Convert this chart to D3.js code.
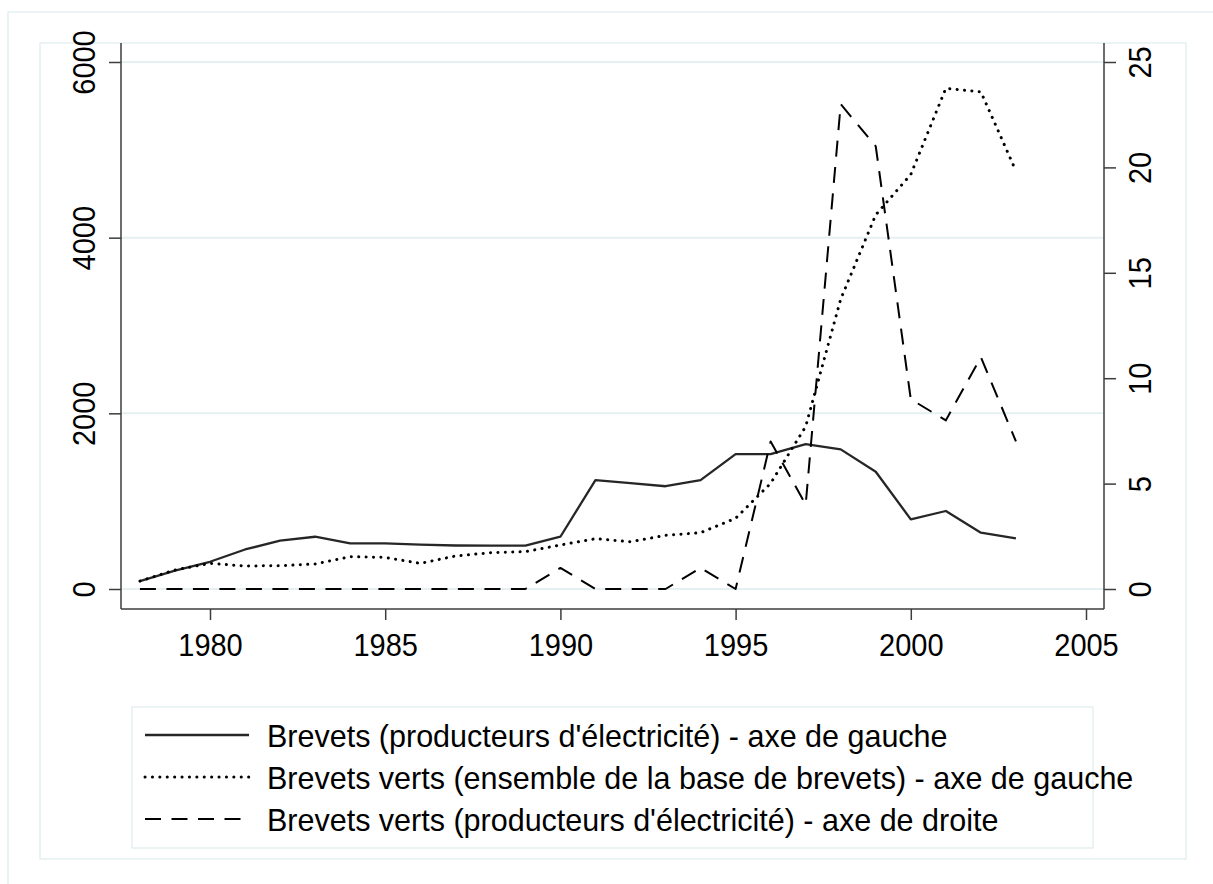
<!DOCTYPE html>
<html>
<head>
<meta charset="utf-8">
<script src="https://cdn.jsdelivr.net/npm/d3@7"></script>
<style>
  body { margin: 0; background: #fff; }
  svg { display: block; font-family: "Liberation Sans", Arial, sans-serif; }
  .grid line { stroke: #e6eff1; stroke-width: 2; }
  .axis path, .axis line { stroke: #3c3c3c; stroke-width: 1.5; }
  .axis text { fill: #000; font-size: 29px; }
  .frame { fill: none; stroke: #e6eff1; stroke-width: 1.5; }
  .legend text { fill: #000; font-size: 30.5px; }
</style>
</head>
<body>
<div id="chart"></div>
<script>
// years shown
const years = [1978, 1979, 1980, 1981, 1982, 1983, 1984, 1985, 1986, 1987, 1988, 1989, 1990,
  1991, 1992, 1993, 1994, 1995, 1996, 1997, 1998, 1999, 2000, 2001, 2002, 2003]

// Brevets (producteurs d'électricité) - left axis
const brevetsProducteurs = [90, 210, 310, 450, 550, 595, 520, 520, 505, 495, 493, 493, 595,
  1240, 1205, 1170, 1240, 1535, 1535, 1650, 1590, 1335, 793, 888, 641, 577]

// Brevets verts (ensemble de la base de brevets) - left axis
const brevetsVertsTous = [90, 216, 292, 262, 265, 285, 368, 360, 292, 375, 413, 425, 501,
  573, 538, 611, 641, 805, 1203, 1850, 3300, 4260, 4720, 5700, 5660, 4760]

// Brevets verts (producteurs d'électricité) - right axis
const brevetsVertsProducteurs = [0, 0, 0, 0, 0, 0, 0, 0, 0, 0, 0, 0, 1,
  0, 0, 0, 1, 0, 7, 4, 23, 21, 9, 8, 11, 7]

const xTicks = [1980, 1985, 1990, 1995, 2000, 2005]
const yLeftTicks = [0, 2000, 4000, 6000]
const yRightTicks = [0, 5, 10, 15, 20, 25]

const legendLabels = [
  "Brevets (producteurs d'électricité) - axe de gauche",
  "Brevets verts (ensemble de la base de brevets) - axe de gauche",
  "Brevets verts (producteurs d'électricité) - axe de droite"
]

const W = 1213, H = 884
const plot = { left: 121, right: 1104, top: 43, bottom: 609 }

const svg = d3.select("#chart").append("svg")
  .attr("width", W)
  .attr("height", H)

// outer and inner frames
svg.append("rect").attr("class", "frame")
  .attr("x", 8).attr("y", 12).attr("width", W + 20).attr("height", H + 20)
svg.append("rect").attr("class", "frame")
  .attr("x", 40).attr("y", 43).attr("width", 1146).attr("height", 816)

const x = d3.scaleLinear()
  .domain([1980 - 89 / 35.04, 1980 + 894 / 35.04])
  .range([plot.left, plot.right])

const yLeft = d3.scaleLinear()
  .domain([0, 6000])
  .range([589, 62])

const yRight = d3.scaleLinear()
  .domain([0, 25])
  .range([589, 62])

// horizontal grid
svg.append("g")
  .attr("class", "grid")
  .selectAll("line")
  .data(yLeftTicks)
  .join("line")
  .attr("x1", plot.left)
  .attr("x2", plot.right)
  .attr("y1", d => yLeft(d))
  .attr("y2", d => yLeft(d))

// axes
const xAxis = svg.append("g")
  .attr("class", "axis")
  .attr("transform", "translate(0," + plot.bottom + ")")
  .call(d3.axisBottom(x).tickValues(xTicks).tickFormat(d3.format("d")).tickSizeInner(11).tickSizeOuter(0))
xAxis.select(".domain").attr("d", `M${plot.left},0H${plot.right}`)
xAxis.selectAll("text")
  .attr("y", null).attr("dy", null)
  .attr("transform", "translate(0,47) scale(1,1.1)")

const leftAxis = svg.append("g")
  .attr("class", "axis")
  .attr("transform", "translate(" + plot.left + ",0)")
  .call(d3.axisLeft(yLeft).tickValues(yLeftTicks).tickFormat(d3.format("d")).tickSizeInner(12).tickSizeOuter(0))
leftAxis.select(".domain").attr("d", `M0,${plot.top}V${plot.bottom}`)
leftAxis.selectAll("text")
  .attr("x", null).attr("dy", null)
  .attr("text-anchor", "middle")
  .attr("transform", "translate(-26,0) rotate(-90) scale(1,1.1)")

const rightAxis = svg.append("g")
  .attr("class", "axis")
  .attr("transform", "translate(" + plot.right + ",0)")
  .call(d3.axisRight(yRight).tickValues(yRightTicks).tickSizeInner(12).tickSizeOuter(0))
rightAxis.select(".domain").attr("d", `M0,${plot.top}V${plot.bottom}`)
rightAxis.selectAll("text")
  .attr("x", null).attr("dy", null)
  .attr("text-anchor", "middle")
  .attr("transform", "translate(47,0) rotate(-90) scale(1,1.1)")

// series
const styles = [
  { stroke: "#262626", width: 2.3, dash: null, cap: "butt" },
  { stroke: "#000", width: 3, dash: "0.1,7.3", cap: "round" },
  { stroke: "#000", width: 2, dash: "16,10.5", cap: "butt" }
]

const lineLeft = d3.line()
  .x((d, i) => x(years[i]))
  .y(d => yLeft(d))

const lineRight = d3.line()
  .x((d, i) => x(years[i]))
  .y(d => yRight(d))

const series = [
  { values: brevetsProducteurs, line: lineLeft },
  { values: brevetsVertsTous, line: lineLeft },
  { values: brevetsVertsProducteurs, line: lineRight }
]

series.forEach((s, i) => {
  svg.append("path")
    .datum(s.values)
    .attr("fill", "none")
    .attr("stroke", styles[i].stroke)
    .attr("stroke-width", styles[i].width)
    .attr("stroke-dasharray", styles[i].dash)
    .attr("stroke-linecap", styles[i].cap)
    .attr("stroke-linejoin", "round")
    .attr("d", s.line)
})

// legend
svg.append("rect").attr("class", "frame")
  .attr("x", 132).attr("y", 707).attr("width", 961).attr("height", 141)

const legend = svg.append("g").attr("class", "legend")
const rows = legend.selectAll("g")
  .data(legendLabels)
  .join("g")
  .attr("transform", (d, i) => "translate(0," + (747 + i * 42) + ")")

rows.append("line")
  .attr("x1", 145).attr("x2", 249)
  .attr("y1", -12).attr("y2", -12)
  .attr("stroke", (d, i) => styles[i].stroke)
  .attr("stroke-width", (d, i) => styles[i].width)
  .attr("stroke-dasharray", (d, i) => styles[i].dash)
  .attr("stroke-linecap", (d, i) => styles[i].cap)

rows.append("text")
  .attr("x", 267)
  .text(d => d)
</script>
</body>
</html>
